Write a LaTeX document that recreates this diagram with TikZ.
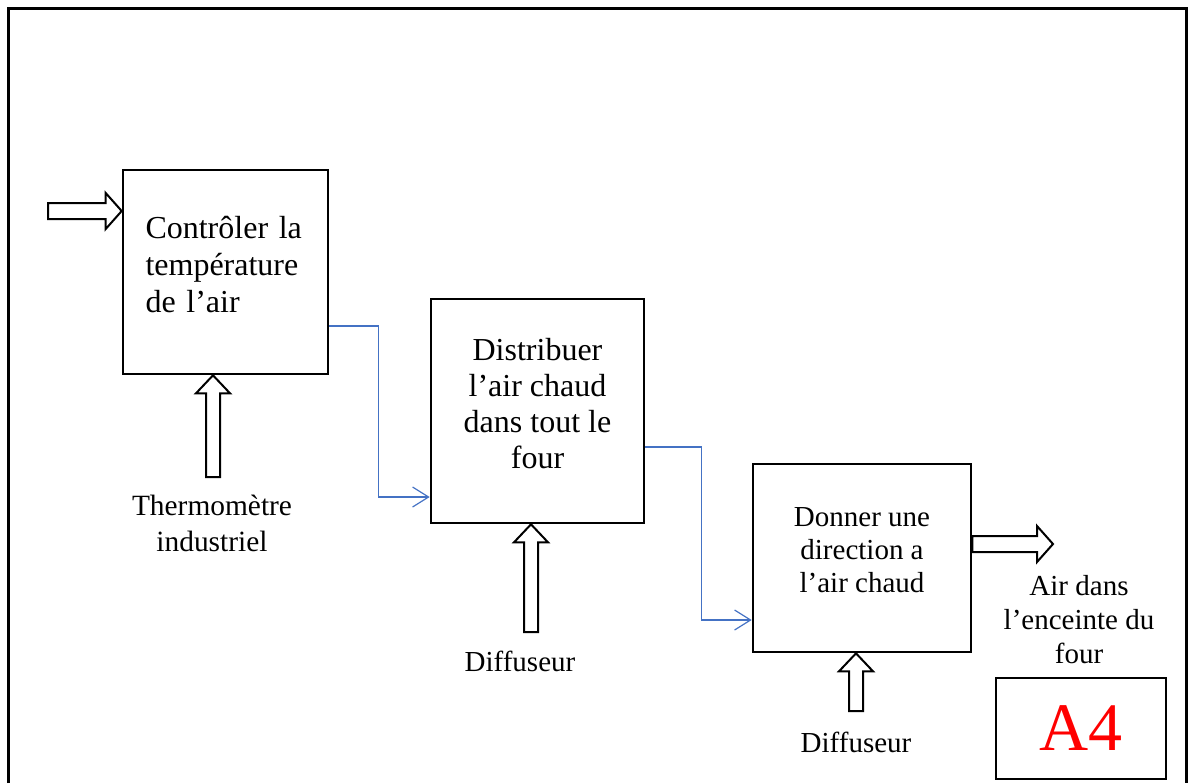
\documentclass[tikz,border=0pt]{standalone}
\usepackage{fontspec}
\setmainfont{Liberation Serif}
\usetikzlibrary{arrows.meta,calc}

\definecolor{flowblue}{RGB}{68,114,196}

% hollow block arrows (tail, tip)
\newcommand{\hollowup}[2]{%
  \draw[hollow] let \p1=(#1), \p2=(#2) in
    (\x2-3.5pt,\y1) -- (\x2-3.5pt,\y2-9pt) -- (\x2-8.5pt,\y2-9pt) -- (\p2)
    -- (\x2+8.5pt,\y2-9pt) -- (\x2+3.5pt,\y2-9pt) -- (\x2+3.5pt,\y1) -- cycle;}
\newcommand{\hollowright}[2]{%
  \draw[hollow] let \p1=(#1), \p2=(#2) in
    (\x1,\y1-4pt) -- (\x2-8pt,\y1-4pt) -- (\x2-8pt,\y1-9pt) -- (\p2)
    -- (\x2-8pt,\y1+9pt) -- (\x2-8pt,\y1+4pt) -- (\x1,\y1+4pt) -- cycle;}

\begin{document}
\begin{tikzpicture}[x=0.5pt,y=-0.5pt,
    box/.style={draw,line width=1.3pt,rectangle,inner sep=0pt,text depth=8pt},
    hollow/.style={draw,line width=1pt,fill=white,line join=miter},
    flow/.style={draw=flowblue,line width=0.6pt,-{Straight Barb[length=8pt,width=10pt]}},
    lbl/.style={align=center,font=\fontsize{14.5}{17}\selectfont}]

    \useasboundingbox (0,0) rectangle (1188,783);
    \draw[line width=1.5pt] (8,783) -- (8,8) -- (1186,8) -- (1186,783);

    \node[box,text depth=45pt,minimum width=102.5pt,minimum height=102pt,text width=80pt,align=left,
          font=\fontsize{16}{18.5}\selectfont] (b1) at (225.5,272)
          {Contrôler la\\température\\de l’air};
    \node[box,minimum width=106.5pt,minimum height=112pt,align=center,
          font=\fontsize{16}{18}\selectfont] (b2) at (537.5,411)
          {Distribuer\\l’air chaud\\dans tout le\\four};
    \node[box,minimum width=109pt,minimum height=94pt,align=center,
          font=\fontsize{14.5}{16.5}\selectfont] (b3) at (862,558)
          {Donner une\\direction a\\l’air chaud};
    \node[box,text depth=,minimum width=85pt,minimum height=50.5pt,text=red,
          font=\fontsize{34}{40}\selectfont] (a4) at (1081,728.5) {A4};

    \node[lbl,font=\fontsize{14.7}{18}\selectfont] (therm) at (212,523) {Thermomètre\\industriel};
    \node[lbl] (diff1) at (520,661) {Diffuseur};
    \node[lbl] (diff2) at (856,742) {Diffuseur};
    \node[lbl] (air) at (1079,620) {Air dans\\l’enceinte du\\four};

    \coordinate (in1) at (48,211);
    \coordinate (t1) at (213,477);
    \coordinate (t2) at (531,632);
    \coordinate (t3) at (856,711);
    \coordinate (out1) at (1053,544);

    \hollowright{in1}{in1 -| b1.west}
    \hollowup{t1}{t1 |- b1.south}
    \hollowup{t2}{t2 |- b2.south}
    \hollowup{t3}{t3 |- b3.south}
    \hollowright{[yshift=7pt]b3.east}{out1}

    \draw[flow] ([yshift=-27pt]b1.east) -- ++(24.5pt,0) |- ([yshift=-43pt]b2.west);
    \draw[flow] ([yshift=-18pt]b2.east) -- ++(28pt,0) |- ([yshift=-31pt]b3.west);
\end{tikzpicture}
\end{document}
